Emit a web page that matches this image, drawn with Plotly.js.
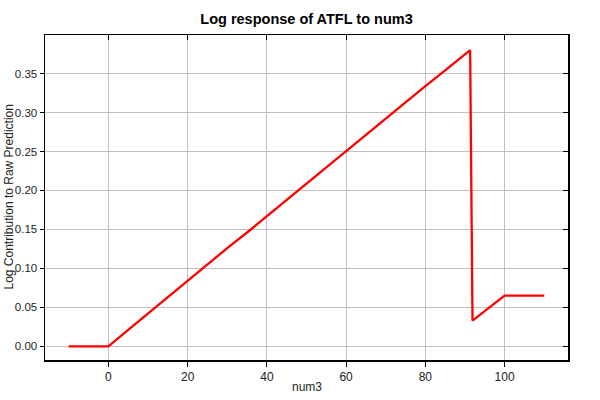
<!DOCTYPE html>
<html>
<head>
<meta charset="utf-8">
<script src="https://cdn.plot.ly/plotly-3.0.1.min.js"></script>
<style>html,body{margin:0;padding:0;background:#fff}#chart{width:600px;height:400px}</style>
</head>
<body>
<div id="chart"></div>
<script>
var num3 = [-10, 0, 5, 10, 15, 20, 25, 30, 35, 40, 45, 50, 55, 60, 65, 70, 75, 80, 85, 91.3, 91.9, 100, 110];
var logContribution = [0, 0, 0.021, 0.042, 0.063, 0.085, 0.105, 0.126, 0.146, 0.167, 0.187, 0.208, 0.229, 0.250, 0.271, 0.293, 0.313, 0.334, 0.354, 0.380, 0.033, 0.065, 0.065];
var xTitle = 'num3';
var yTitle = 'Log Contribution to Raw Prediction';
var chartTitle = 'Log response of ATFL to num3';

var fontFam = '"Liberation Sans", Arial, Helvetica, sans-serif';

var traces = [
  {x: num3, y: logContribution, type: 'scatter', mode: 'lines',
   line: {color: '#ff0000', width: 2.3}, showlegend: false, hoverinfo: 'skip'},
  {x: [], y: [], xaxis: 'x2', yaxis: 'y2', type: 'scatter', mode: 'lines', showlegend: false, hoverinfo: 'skip'}
];

var layout = {
  width: 600, height: 400,
  margin: {l: 45, r: 32, t: 35, b: 40},
  paper_bgcolor: '#ffffff', plot_bgcolor: '#ffffff',
  font: {family: fontFam, size: 12, color: '#222'},
  showlegend: false,
  title: {text: '<b>' + chartTitle + '</b>', font: {family: fontFam, size: 14.5, color: '#000'},
          x: 0.5, xref: 'paper', xanchor: 'center', y: 1 - 19/400, yref: 'container', yanchor: 'middle'},
  xaxis: {range: [-16, 116], tick0: 0, dtick: 20, ticks: 'outside', ticklen: 5, tickcolor: '#000',
          showgrid: true, gridcolor: '#c0c0c0', gridwidth: 1, zeroline: false,
          showline: true, linecolor: '#000', linewidth: 1.5, mirror: true,
          tickfont: {size: 12, color: '#222'}},
  yaxis: {range: [-0.0176, 0.3995], tick0: 0, dtick: 0.05, tickformat: '.2f', ticks: 'outside', ticklen: 4, tickcolor: '#000',
          showgrid: true, gridcolor: '#c0c0c0', gridwidth: 1, zeroline: false,
          showline: true, linecolor: '#000', linewidth: 1.5, mirror: true,
          tickfont: {size: 11.5, color: '#222'}},
  xaxis2: {overlaying: 'x', side: 'top', matches: 'x', range: [-16, 116], tick0: 0, dtick: 20,
           ticks: 'inside', ticklen: 5, tickcolor: '#000', showticklabels: false,
           showgrid: false, zeroline: false, showline: false},
  yaxis2: {overlaying: 'y', side: 'right', matches: 'y', range: [-0.0176, 0.3995], tick0: 0, dtick: 0.05,
           ticks: 'inside', ticklen: 5, tickcolor: '#000', showticklabels: false,
           showgrid: false, zeroline: false, showline: false},
  annotations: [
    {text: xTitle, xref: 'paper', yref: 'paper', x: 0.5, y: (360 - 387) / 325, xanchor: 'center', yanchor: 'middle',
     showarrow: false, font: {size: 12, color: '#222'}},
    {text: yTitle, xref: 'paper', yref: 'paper', x: (8 - 45) / 523, y: 0.5, xanchor: 'center', yanchor: 'middle',
     textangle: -90, showarrow: false, font: {size: 12, color: '#222'}}
  ]
};

Plotly.newPlot('chart', traces, layout, {displayModeBar: false, staticPlot: true});
</script>
</body>
</html>
